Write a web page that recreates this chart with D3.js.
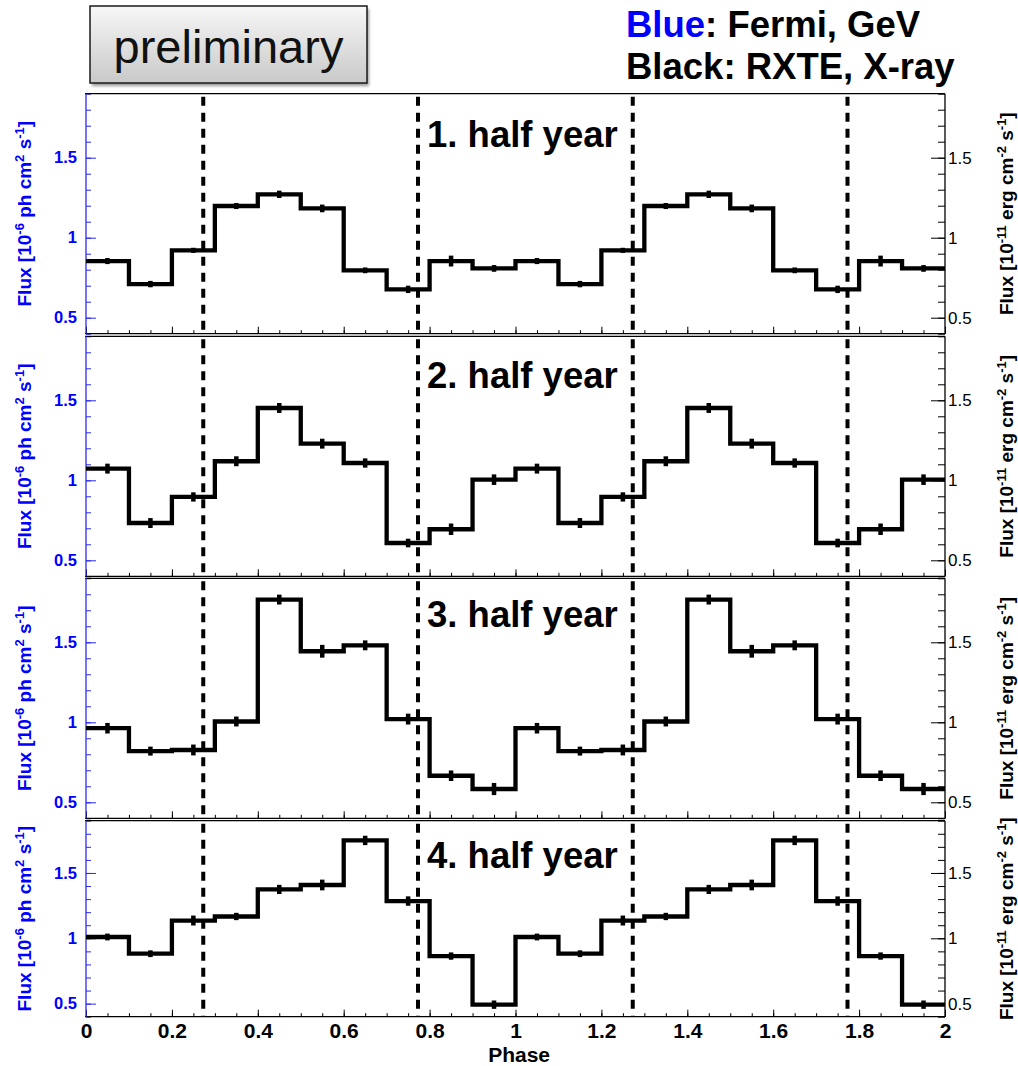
<!DOCTYPE html>
<html>
<head>
<meta charset="utf-8">
<script src="https://cdn.jsdelivr.net/npm/d3@7"></script>
<style>
  body { margin: 0; background: #fff; }
  svg { display: block; }
  text { font-family: "Liberation Sans", Arial, Helvetica, sans-serif; }
</style>
</head>
<body>
<svg id="chart" width="1018" height="1066"></svg>
<script>
// Orbital phase bins (two cycles, 0.1 wide)
const phaseCenters = [0.05, 0.15, 0.25, 0.35, 0.45, 0.55, 0.65, 0.75, 0.85, 0.95,
                      1.05, 1.15, 1.25, 1.35, 1.45, 1.55, 1.65, 1.75, 1.85, 1.95];
const binWidth = 0.1;

// Flux per bin and its uncertainty, one pair per half-year data set
const flux1 = [0.854, 0.710, 0.921, 1.198, 1.271, 1.183, 0.796, 0.677, 0.854, 0.808,
               0.854, 0.710, 0.921, 1.198, 1.271, 1.183, 0.796, 0.677, 0.854, 0.808];
const err1  = [0.019, 0.020, 0.016, 0.019, 0.023, 0.024, 0.018, 0.023, 0.034, 0.021,
               0.019, 0.020, 0.016, 0.019, 0.023, 0.024, 0.018, 0.023, 0.034, 0.021];

const flux2 = [1.073, 0.733, 0.896, 1.119, 1.452, 1.229, 1.108, 0.608, 0.694, 1.004,
               1.073, 0.733, 0.896, 1.119, 1.452, 1.229, 1.108, 0.608, 0.694, 1.004];
const err2  = [0.031, 0.031, 0.029, 0.031, 0.031, 0.031, 0.029, 0.027, 0.036, 0.033,
               0.031, 0.031, 0.029, 0.031, 0.031, 0.031, 0.029, 0.027, 0.036, 0.033];

const flux3 = [0.963, 0.820, 0.827, 1.005, 1.767, 1.444, 1.481, 1.020, 0.666, 0.583,
               0.963, 0.820, 0.827, 1.005, 1.767, 1.444, 1.481, 1.020, 0.666, 0.583];
const err3  = [0.033, 0.028, 0.034, 0.031, 0.031, 0.040, 0.031, 0.034, 0.033, 0.038,
               0.033, 0.028, 0.034, 0.031, 0.031, 0.040, 0.031, 0.034, 0.033, 0.038];

const flux4 = [1.010, 0.882, 1.136, 1.167, 1.374, 1.408, 1.749, 1.285, 0.864, 0.492,
               1.010, 0.882, 1.136, 1.167, 1.374, 1.408, 1.749, 1.285, 0.864, 0.492];
const err4  = [0.026, 0.026, 0.038, 0.028, 0.035, 0.041, 0.036, 0.036, 0.028, 0.032,
               0.026, 0.026, 0.038, 0.028, 0.035, 0.041, 0.036, 0.036, 0.028, 0.032];

const panelTitles = ["1. half year", "2. half year", "3. half year", "4. half year"];
const markerPhases = [0.273, 0.773, 1.273, 1.773];

const xTickValues = [0, 0.2, 0.4, 0.6, 0.8, 1, 1.2, 1.4, 1.6, 1.8, 2];
const yTickValues = [0.5, 1, 1.5];
const xDomain = [0, 2];
const yDomain = [0.4, 1.9];

// ---- layout ----
const BLUE = "#0000ff";
const AXIS_BLUE = "#2a2af0";
const X0 = 86, X1 = 945;
const pads = [
  { top: 93.7,  bottom: 333.7,  titleDy: 53 },
  { top: 336.3, bottom: 576.3,  titleDy: 51.5 },
  { top: 578.3, bottom: 818.3,  titleDy: 48.5 },
  { top: 820.7, bottom: 1016.7, titleDy: 47 }
];
const series = [[flux1, err1], [flux2, err2], [flux3, err3], [flux4, err4]];

const svg = d3.select("#chart");
const x = d3.scaleLinear().domain(xDomain).range([X0, X1]);

const xMinor = d3.range(0, 40.5, 1).map(i => i * 0.05);
const yMinor = d3.range(4, 19.5, 1).map(i => i / 10);
const fmt = d => String(+(+d).toFixed(1));

// ---- "preliminary" badge ----
const defs = svg.append("defs");
const grad = defs.append("linearGradient").attr("id", "badgeFill")
  .attr("x1", 0).attr("y1", 0).attr("x2", 0).attr("y2", 1);
grad.append("stop").attr("offset", "0%").attr("stop-color", "#f7f7f7");
grad.append("stop").attr("offset", "100%").attr("stop-color", "#c9c9c9");
const shadow = defs.append("filter").attr("id", "badgeShadow")
  .attr("x", "-10%").attr("y", "-10%").attr("width", "130%").attr("height", "140%");
shadow.append("feGaussianBlur").attr("stdDeviation", 1.8);

svg.append("rect").attr("x", 92).attr("y", 9).attr("width", 277).attr("height", 77)
  .attr("fill", "#9a9a9a").attr("filter", "url(#badgeShadow)");
svg.append("rect").attr("x", 90).attr("y", 6).attr("width", 277).attr("height", 77)
  .attr("fill", "url(#badgeFill)").attr("stroke", "#1a1a1a").attr("stroke-width", 1.5);
svg.append("text").attr("x", 228.5).attr("y", 63).attr("text-anchor", "middle")
  .attr("font-size", 47).attr("fill", "#111").text("preliminary");

// ---- colour key ----
const key1 = svg.append("text").attr("x", 626).attr("y", 36.5)
  .attr("font-size", 36.5).attr("font-weight", "bold");
key1.append("tspan").attr("fill", BLUE).text("Blue");
key1.append("tspan").attr("fill", "#000").text(": Fermi, GeV");
svg.append("text").attr("x", 626).attr("y", 79)
  .attr("font-size", 36.5).attr("font-weight", "bold").attr("fill", "#000")
  .text("Black: RXTE, X-ray");

// ---- panels ----
pads.forEach((p, i) => {
  const [flux, err] = series[i];
  const g = svg.append("g");
  const y = d3.scaleLinear().domain(yDomain).range([p.bottom, p.top]);

  // bottom axis: minor then major ticks, pointing up
  g.append("g").attr("transform", `translate(0,${p.bottom})`)
    .call(d3.axisBottom(x).tickValues(xMinor).tickFormat("").tickSizeInner(-3.5).tickSizeOuter(0))
    .call(a => a.select(".domain").remove())
    .call(a => a.selectAll("line").attr("stroke", "#000").attr("stroke-width", 1));
  const xb = g.append("g").attr("transform", `translate(0,${p.bottom})`)
    .call(d3.axisBottom(x).tickValues(xTickValues)
      .tickFormat(i === pads.length - 1 ? fmt : "")
      .tickSizeInner(-7).tickSizeOuter(0).tickPadding(6))
    .call(a => a.select(".domain").remove());
  xb.selectAll("line").attr("stroke", "#000").attr("stroke-width", 1);
  xb.selectAll("text").attr("font-size", 21).attr("font-weight", "bold")
    .attr("fill", "#000").attr("font-family", "Liberation Sans, Arial, sans-serif");

  // left axis (blue)
  g.append("g").attr("transform", `translate(${X0},0)`)
    .call(d3.axisLeft(y).tickValues(yMinor).tickFormat("").tickSizeInner(-5).tickSizeOuter(0))
    .call(a => a.select(".domain").remove())
    .call(a => a.selectAll("line").attr("stroke", AXIS_BLUE).attr("stroke-width", 1));
  const yl = g.append("g").attr("transform", `translate(${X0},0)`)
    .call(d3.axisLeft(y).tickValues(yTickValues).tickFormat(fmt)
      .tickSizeInner(-10).tickSizeOuter(0).tickPadding(9))
    .call(a => a.select(".domain").remove());
  yl.selectAll("line").attr("stroke", AXIS_BLUE).attr("stroke-width", 1);
  yl.selectAll("text").attr("font-size", 16.5).attr("font-weight", "bold")
    .attr("fill", BLUE).attr("font-family", "Liberation Sans, Arial, sans-serif");

  // right axis (black)
  g.append("g").attr("transform", `translate(${X1},0)`)
    .call(d3.axisRight(y).tickValues(yMinor).tickFormat("").tickSizeInner(-7).tickSizeOuter(0))
    .call(a => a.select(".domain").remove())
    .call(a => a.selectAll("line").attr("stroke", "#000").attr("stroke-width", 1));
  const yr = g.append("g").attr("transform", `translate(${X1},0)`)
    .call(d3.axisRight(y).tickValues(yTickValues).tickFormat(fmt)
      .tickSizeInner(-14).tickSizeOuter(0).tickPadding(3))
    .call(a => a.select(".domain").remove());
  yr.selectAll("line").attr("stroke", "#000").attr("stroke-width", 1);
  yr.selectAll("text").attr("font-size", 17).attr("fill", "#000")
    .attr("font-family", "Liberation Sans, Arial, sans-serif");

  // frame
  g.append("line").attr("x1", X0 - 1).attr("x2", X1).attr("y1", p.top).attr("y2", p.top)
    .attr("stroke", "#000").attr("stroke-width", 1.3);
  g.append("line").attr("x1", X0 - 1).attr("x2", X1).attr("y1", p.bottom).attr("y2", p.bottom)
    .attr("stroke", "#000").attr("stroke-width", 1.3);
  g.append("line").attr("x1", X1).attr("x2", X1).attr("y1", p.top).attr("y2", p.bottom)
    .attr("stroke", "#000").attr("stroke-width", 1.3);
  g.append("line").attr("x1", X0).attr("x2", X0).attr("y1", p.top).attr("y2", p.bottom)
    .attr("stroke", AXIS_BLUE).attr("stroke-width", 1.3);

  // dashed phase markers
  g.selectAll(".marker").data(markerPhases).enter().append("line")
    .attr("x1", d => x(d)).attr("x2", d => x(d))
    .attr("y1", p.top + 3).attr("y2", p.bottom)
    .attr("stroke", "#000").attr("stroke-width", 4)
    .attr("stroke-dasharray", "9,7");

  // step histogram
  const pts = phaseCenters.map((c, k) => [c - binWidth / 2, flux[k]]);
  pts.push([phaseCenters[phaseCenters.length - 1] + binWidth / 2, flux[flux.length - 1]]);
  const line = d3.line().x(d => x(d[0])).y(d => y(d[1])).curve(d3.curveStepAfter);
  g.append("path").attr("d", line(pts)).attr("fill", "none")
    .attr("stroke", "#000").attr("stroke-width", 4.3).attr("stroke-linejoin", "miter");

  // error bars at bin centres
  g.selectAll(".err").data(phaseCenters).enter().append("line")
    .attr("x1", d => x(d)).attr("x2", d => x(d))
    .attr("y1", (d, k) => y(flux[k] - err[k]))
    .attr("y2", (d, k) => y(flux[k] + err[k]))
    .attr("stroke", "#000").attr("stroke-width", 4.5);

  // panel title
  g.append("text").attr("x", 427).attr("y", p.top + p.titleDy)
    .attr("font-size", 36.5).attr("font-weight", "bold").attr("fill", "#000")
    .text(panelTitles[i]);

  // axis titles
  const cy = (p.top + p.bottom) / 2;
  const lt = g.append("text")
    .attr("transform", `translate(31,${cy}) rotate(-90)`)
    .attr("text-anchor", "middle").attr("font-size", 19).attr("font-weight", "bold")
    .attr("fill", BLUE);
  lt.append("tspan").text("Flux [10");
  lt.append("tspan").attr("dy", -7).attr("font-size", 13).text("-6");
  lt.append("tspan").attr("dy", 7).text(" ph cm");
  lt.append("tspan").attr("dy", -7).attr("font-size", 13).text("2");
  lt.append("tspan").attr("dy", 7).text(" s");
  lt.append("tspan").attr("dy", -7).attr("font-size", 13).text("-1");
  lt.append("tspan").attr("dy", 7).text("]");

  const rt = g.append("text")
    .attr("transform", `translate(1013,${cy}) rotate(-90)`)
    .attr("text-anchor", "middle").attr("font-size", 19).attr("font-weight", "bold")
    .attr("fill", "#000");
  rt.append("tspan").text("Flux [10");
  rt.append("tspan").attr("dy", -7).attr("font-size", 13).text("-11");
  rt.append("tspan").attr("dy", 7).text(" erg cm");
  rt.append("tspan").attr("dy", -7).attr("font-size", 13).text("-2");
  rt.append("tspan").attr("dy", 7).text(" s");
  rt.append("tspan").attr("dy", -7).attr("font-size", 13).text("-1");
  rt.append("tspan").attr("dy", 7).text("]");
});

// x-axis title
svg.append("text").attr("x", 550).attr("y", 1061.5).attr("text-anchor", "end")
  .attr("font-size", 21).attr("font-weight", "bold").attr("fill", "#000").text("Phase");
</script>
</body>
</html>
